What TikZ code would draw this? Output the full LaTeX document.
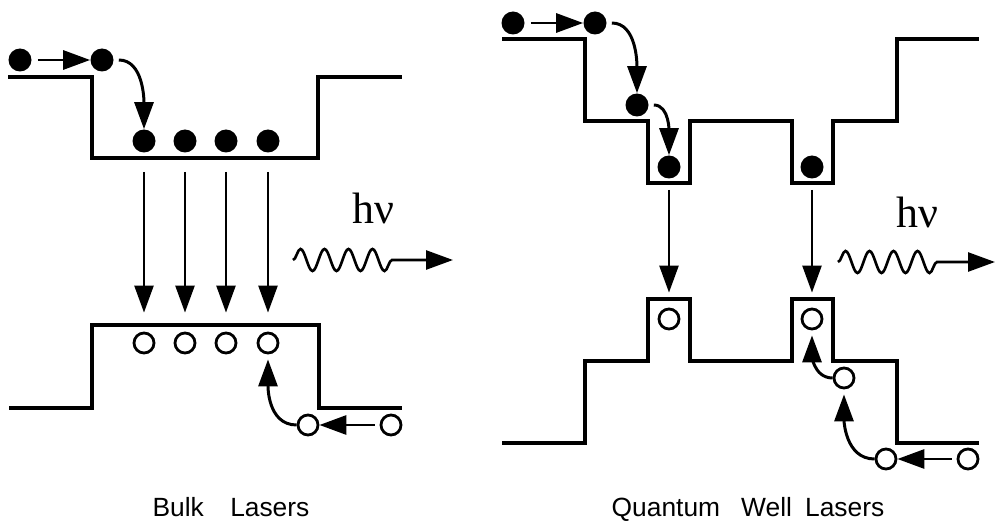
\documentclass[tikz,border=0pt]{standalone}
\usepackage{fontspec}
\usepackage{tikz}
\usetikzlibrary{arrows.meta,decorations.pathmorphing}
\newfontfamily\lblfont{Liberation Sans}
\newfontfamily\nufont{Liberation Serif}
\tikzset{
  >={Triangle[length=5.4mm,width=3.8mm]},
  % bandkanter
  band/.style={draw=black,line width=2pt},
  % laddningar
  el/.style={circle,fill=black,inner sep=0pt,minimum size=4.6mm},
  ho/.style={circle,draw=black,fill=white,line width=1.6pt,inner sep=0pt,minimum size=4mm},
  % pilar
  tr/.style={->,draw=black,line width=1.4pt},
  hop/.style={->,draw=black,line width=1.7pt},
  wav/.style={->,draw=black,line width=1.5pt,decorate,
    decoration={snake,amplitude=2.2mm,segment length=4.8mm,post length=10mm}},
  nu/.style={font=\nufont\fontsize{25}{28}\selectfont,anchor=base,inner sep=0pt},
  lbl/.style={font=\lblfont\fontsize{15}{18}\selectfont,anchor=base,inner sep=0pt},
}
\begin{document}
\begin{tikzpicture}[x=0.2mm,y=-0.2mm]
  \useasboundingbox (0,0) rectangle (995,529);
  % bulk
  \draw[band] (8,77) -| (92,158) -| (318,77) -- (402,77);
  \draw[band] (9,408) -| (92,325) -| (319,408) -- (402,408);
  \node[el] (ea) at (20,60) {};
  \node[el] (eb) at (102,60) {};
  \draw[hop,shorten <=1.2mm] (ea) -- (eb);
  \foreach \n/\x in {1/144,2/185,3/226,4/268}{
    \node[el] (w\n) at (\x,141) {};
    \node[ho] (h\n) at (\x,343) {};
    \draw[tr,shorten <=3.8mm,shorten >=3.8mm] (w\n) -- (h\n);
  }
  \draw[hop,shorten <=1mm] (eb) to[out=0,in=90] (w1);
  \node[ho] (ra) at (308,425) {};
  \node[ho] (rb) at (391,425) {};
  \draw[hop,shorten <=1mm] (rb) -- (ra);
  \draw[hop,shorten >=1mm] (ra) to[out=180,in=-90] (h4);
  \coordinate (pa) at (293,260);
  \coordinate (pb) at (453,260);
  \draw[wav] (pa) -- (pb);
  \node[nu] (nua) at (373,224) {hν};
  \node[lbl] (bulk) at (231,517) {Bulk\quad Lasers};
  % kvantbrunnar
  \draw[band] (502,39) -| (585,121) -| (648,183) -| (690,121) -| (792,183)
    -| (833,121) -| (897,39) -- (979,39);
  \draw[band] (502,443) -| (585,361) -| (648,299) -| (690,361) -| (792,299)
    -| (833,361) -| (897,443) -- (979,443);
  \node[el] (qa) at (513,23) {};
  \node[el] (qb) at (595,23) {};
  \node[el] (qc) at (637,105) {};
  \node[el] (qd) at (669,167) {};
  \node[el] (qe) at (812,167) {};
  \draw[hop,shorten <=1.2mm] (qa) -- (qb);
  \draw[hop,shorten <=1mm] (qb) to[out=0,in=90] (qc);
  \draw[hop,shorten <=1mm] (qc) to[out=0,in=90] (qd);
  \node[ho] (ka) at (669,319) {};
  \node[ho] (kb) at (812,319) {};
  \node[ho] (kc) at (844,378) {};
  \node[ho] (kd) at (886,459) {};
  \node[ho] (ke) at (968,459) {};
  \draw[tr,shorten <=2.2mm,shorten >=3mm] (qd) -- (ka);
  \draw[tr,shorten <=2.2mm,shorten >=3mm] (qe) -- (kb);
  \draw[hop,shorten <=1mm] (ke) -- (kd);
  \draw[hop,shorten >=1mm] (kd) to[out=180,in=-90] (kc);
  \draw[hop,shorten >=1mm] (kc) to[out=180,in=-90] (kb);
  \coordinate (pc) at (838,262);
  \coordinate (pd) at (995,262);
  \draw[wav] (pc) -- (pd);
  \node[nu] (nub) at (917,228) {hν};
  \node[lbl] (qw) at (748,517) {Quantum\hspace{0.8em}Well\enspace Lasers};
\end{tikzpicture}
\end{document}
